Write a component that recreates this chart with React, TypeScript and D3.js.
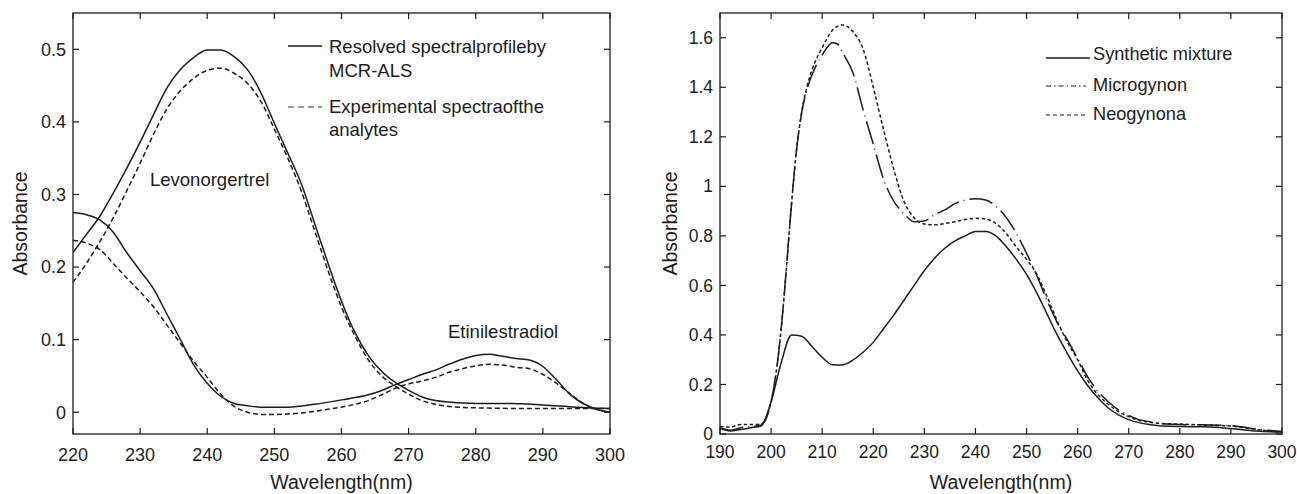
import React from "react";
import * as d3 from "d3";

// ---------- Left panel data (wavelength nm, absorbance) ----------
const levoResolved: [number, number][] = [
  [220, 0.22], [222, 0.245], [224, 0.27], [226, 0.302], [228, 0.336], [230, 0.372], [232, 0.41], [234, 0.447],
  [236, 0.472], [238, 0.489], [240, 0.499], [242, 0.499], [244, 0.49], [246, 0.472], [248, 0.44], [250, 0.398],
  [252, 0.357], [254, 0.315], [256, 0.26], [258, 0.205], [260, 0.153], [262, 0.11], [264, 0.078], [266, 0.056],
  [268, 0.041], [270, 0.03], [272, 0.021], [274, 0.016], [276, 0.014], [280, 0.012], [285, 0.012], [290, 0.01],
  [295, 0.007], [300, 0.005],
];
const levoExperimental: [number, number][] = [
  [220, 0.179], [222, 0.205], [224, 0.235], [226, 0.268], [228, 0.305], [230, 0.343], [232, 0.383], [234, 0.418],
  [236, 0.443], [238, 0.46], [240, 0.471], [242, 0.474], [244, 0.467], [246, 0.453], [248, 0.428], [250, 0.39],
  [252, 0.35], [254, 0.305], [256, 0.25], [258, 0.195], [260, 0.145], [262, 0.105], [264, 0.072], [266, 0.05],
  [268, 0.036], [270, 0.025], [272, 0.016], [274, 0.011], [276, 0.008], [280, 0.006], [290, 0.005], [300, 0.005],
];
const etinResolved: [number, number][] = [
  [220, 0.275], [222, 0.272], [224, 0.265], [226, 0.248], [228, 0.22], [230, 0.195], [232, 0.17], [234, 0.135],
  [236, 0.1], [238, 0.065], [240, 0.04], [242, 0.022], [244, 0.012], [246, 0.009], [248, 0.007], [252, 0.007],
  [256, 0.011], [260, 0.017], [264, 0.024], [266, 0.03], [268, 0.038], [270, 0.045], [272, 0.052], [274, 0.058],
  [276, 0.066], [278, 0.073], [280, 0.078], [282, 0.08], [284, 0.077], [286, 0.074], [288, 0.072], [290, 0.063],
  [292, 0.045], [294, 0.025], [296, 0.012], [298, 0.004], [300, 0.0],
];
const etinExperimental: [number, number][] = [
  [220, 0.237], [222, 0.233], [224, 0.224], [226, 0.205], [228, 0.185], [230, 0.166], [232, 0.145], [234, 0.12],
  [236, 0.095], [238, 0.07], [240, 0.048], [242, 0.025], [244, 0.008], [246, 0.0], [248, -0.003], [250, -0.003],
  [254, -0.001], [258, 0.004], [262, 0.011], [264, 0.016], [266, 0.024], [268, 0.033], [270, 0.039], [272, 0.043],
  [274, 0.048], [276, 0.055], [278, 0.06], [280, 0.064], [282, 0.066], [284, 0.065], [286, 0.062], [288, 0.06],
  [290, 0.052], [292, 0.04], [294, 0.026], [296, 0.012], [298, 0.004], [300, 0.0],
];
const leftXTicks = [220, 230, 240, 250, 260, 270, 280, 290, 300];
const leftYTicks = [0, 0.1, 0.2, 0.3, 0.4, 0.5];

// ---------- Right panel data ----------
const synthetic: [number, number][] = [
  [190, 0.023], [192, 0.012], [194, 0.018], [196, 0.025], [198, 0.032], [200, 0.13], [202, 0.29], [204, 0.4],
  [206, 0.395], [208, 0.353], [210, 0.31], [212, 0.28], [214, 0.279], [216, 0.298], [218, 0.33], [220, 0.37],
  [222, 0.425], [224, 0.48], [226, 0.54], [228, 0.6], [230, 0.66], [232, 0.71], [234, 0.75], [236, 0.78],
  [238, 0.8], [240, 0.818], [242, 0.818], [244, 0.8], [246, 0.757], [248, 0.705], [250, 0.645], [252, 0.57],
  [254, 0.485], [256, 0.4], [258, 0.325], [260, 0.255], [262, 0.195], [264, 0.145], [266, 0.105], [268, 0.077],
  [270, 0.058], [272, 0.046], [274, 0.038], [276, 0.033], [280, 0.03], [285, 0.029], [290, 0.022], [295, 0.012],
  [300, 0.008],
];
const microgynon: [number, number][] = [
  [190, 0.025], [192, 0.015], [194, 0.025], [196, 0.03], [198, 0.035], [200, 0.13], [201, 0.25], [202, 0.43],
  [203, 0.67], [204, 0.93], [205, 1.15], [206, 1.3], [207, 1.39], [208, 1.45], [210, 1.53], [212, 1.58],
  [213, 1.575], [214, 1.54], [216, 1.46], [218, 1.31], [220, 1.17], [222, 1.03], [224, 0.94], [226, 0.89],
  [228, 0.857], [230, 0.86], [232, 0.885], [234, 0.905], [236, 0.93], [238, 0.945], [240, 0.95], [242, 0.945],
  [244, 0.92], [246, 0.875], [248, 0.81], [250, 0.73], [252, 0.64], [254, 0.54], [256, 0.45], [258, 0.38],
  [260, 0.305], [262, 0.23], [264, 0.172], [266, 0.13], [268, 0.097], [270, 0.075], [272, 0.058], [274, 0.05],
  [276, 0.043], [280, 0.038], [285, 0.037], [290, 0.034], [295, 0.02], [300, 0.01],
];
const neogynona: [number, number][] = [
  [190, 0.03], [192, 0.028], [194, 0.038], [196, 0.038], [198, 0.04], [200, 0.13], [201, 0.25], [202, 0.43],
  [203, 0.67], [204, 0.93], [205, 1.15], [206, 1.3], [207, 1.4], [208, 1.47], [210, 1.56], [212, 1.63],
  [214, 1.652], [216, 1.625], [218, 1.555], [220, 1.4], [222, 1.23], [224, 1.07], [226, 0.94], [228, 0.873],
  [230, 0.848], [232, 0.845], [234, 0.85], [236, 0.857], [238, 0.866], [240, 0.871], [242, 0.868], [244, 0.85],
  [246, 0.81], [248, 0.755], [250, 0.705], [252, 0.645], [254, 0.555], [256, 0.457], [258, 0.37], [260, 0.3],
  [262, 0.215], [264, 0.158], [266, 0.12], [268, 0.09], [270, 0.07], [272, 0.055], [274, 0.048], [276, 0.043],
  [280, 0.04], [285, 0.036], [290, 0.032], [295, 0.018], [300, 0.008],
];
const rightXTicks = [190, 200, 210, 220, 230, 240, 250, 260, 270, 280, 290, 300];
const rightYTicks = [0, 0.2, 0.4, 0.6, 0.8, 1, 1.2, 1.4, 1.6];

const FONT = "'Liberation Sans', Arial, Helvetica, sans-serif";
const INK = "#1c1c1c";

type Frame = { x0: number; x1: number; y0: number; y1: number };

function Axes({ x, y, xt, yt, f, fmt, tickFont, xLabelY }: any) {
  const T = 6;
  return (
    <g>
      <rect x={f.x0} y={f.y0} width={f.x1 - f.x0} height={f.y1 - f.y0} fill="none" stroke={INK} strokeWidth={1.3} />
      {xt.map((t: number) => (
        <g key={"x" + t}>
          <line x1={x(t)} x2={x(t)} y1={f.y1} y2={f.y1 - T} stroke={INK} strokeWidth={1.2} />
          <line x1={x(t)} x2={x(t)} y1={f.y0} y2={f.y0 + T} stroke={INK} strokeWidth={1.2} />
          <text x={x(t)} y={xLabelY} textAnchor="middle" fontSize={tickFont} fontFamily={FONT} fill={INK}>{t}</text>
        </g>
      ))}
      {yt.map((t: number) => (
        <g key={"y" + t}>
          <line x1={f.x0} x2={f.x0 + T} y1={y(t)} y2={y(t)} stroke={INK} strokeWidth={1.2} />
          <line x1={f.x1} x2={f.x1 - T} y1={y(t)} y2={y(t)} stroke={INK} strokeWidth={1.2} />
          <text x={f.x0 - 7} y={y(t)} dy="0.35em" textAnchor="end" fontSize={tickFont} fontFamily={FONT} fill={INK}>{fmt(t)}</text>
        </g>
      ))}
    </g>
  );
}

export default function App() {
  // Left panel
  const L: Frame = { x0: 73, x1: 610, y0: 13, y1: 434 };
  const xL = d3.scaleLinear().domain([220, 300]).range([L.x0, L.x1]);
  const yL = d3.scaleLinear().domain([-0.03, 0.55]).range([L.y1, L.y0]);
  const lineL = d3.line<[number, number]>().x((d) => xL(d[0])).y((d) => yL(d[1])).curve(d3.curveMonotoneX);

  // Right panel
  const R: Frame = { x0: 720, x1: 1282, y0: 13, y1: 434 };
  const xR = d3.scaleLinear().domain([190, 300]).range([R.x0, R.x1]);
  const yR = d3.scaleLinear().domain([0, 1.7]).range([R.y1, R.y0]);
  const lineR = d3.line<[number, number]>().x((d) => xR(d[0])).y((d) => yR(d[1])).curve(d3.curveMonotoneX);

  const fmtL = (t: number) => (t === 0 ? "0" : d3.format(".1f")(t));
  const fmtR = (t: number) => (t === 0 ? "0" : t === 1 ? "1" : d3.format(".1f")(t));

  return (
    <svg width={1297} height={494} style={{ position: "absolute", left: 0, top: 0, background: "#fff" }}>
      <rect width={1297} height={494} fill="#fff" />
      <defs>
        <clipPath id="clipL"><rect x={L.x0} y={L.y0} width={L.x1 - L.x0} height={L.y1 - L.y0} /></clipPath>
        <clipPath id="clipR"><rect x={R.x0} y={R.y0} width={R.x1 - R.x0} height={R.y1 - R.y0} /></clipPath>
      </defs>
      {/* ---------- Left panel ---------- */}
      <g clipPath="url(#clipL)">
        <path d={lineL(levoResolved) || ""} fill="none" stroke={INK} strokeWidth={1.5} />
        <path d={lineL(etinResolved) || ""} fill="none" stroke={INK} strokeWidth={1.5} />
        <path d={lineL(levoExperimental) || ""} fill="none" stroke={INK} strokeWidth={1.5} strokeDasharray="5,3" />
        <path d={lineL(etinExperimental) || ""} fill="none" stroke={INK} strokeWidth={1.5} strokeDasharray="5,3" />
      </g>
      <Axes x={xL} y={yL} xt={leftXTicks} yt={leftYTicks} f={L} fmt={fmtL} tickFont={18} xLabelY={461} />
      <text x={150} y={186} fontSize={18.5} fontFamily={FONT} fill={INK}>Levonorgertrel</text>
      <text x={448} y={338} fontSize={18.5} fontFamily={FONT} fill={INK}>Etinilestradiol</text>
      <line x1={288} x2={322} y1={46} y2={46} stroke={INK} strokeWidth={1.3} />
      <text x={329} y={53} fontSize={18.5} fontFamily={FONT} fill={INK}>Resolved spectralprofileby</text>
      <text x={329} y={77} fontSize={18.5} fontFamily={FONT} fill={INK}>MCR-ALS</text>
      <line x1={288} x2={322} y1={107} y2={107} stroke="#777" strokeWidth={1.3} strokeDasharray="6,4" />
      <text x={329} y={113} fontSize={18.5} fontFamily={FONT} fill={INK}>Experimental spectraofthe</text>
      <text x={329} y={136} fontSize={18.5} fontFamily={FONT} fill={INK}>analytes</text>
      <text x={(L.x0 + L.x1) / 2} y={489} textAnchor="middle" fontSize={19.5} fontFamily={FONT} fill={INK}>Wavelength(nm)</text>
      <text transform={`translate(27,${(L.y0 + L.y1) / 2}) rotate(-90)`} textAnchor="middle" fontSize={19.5} fontFamily={FONT} fill={INK}>Absorbance</text>

      {/* ---------- Right panel ---------- */}
      <g clipPath="url(#clipR)">
        <path d={lineR(synthetic) || ""} fill="none" stroke={INK} strokeWidth={1.5} />
        <path d={lineR(microgynon) || ""} fill="none" stroke={INK} strokeWidth={1.5} strokeDasharray="24,5,1,5" />
        <path d={lineR(neogynona) || ""} fill="none" stroke={INK} strokeWidth={1.5} strokeDasharray="3.5,2.5" />
      </g>
      <Axes x={xR} y={yR} xt={rightXTicks} yt={rightYTicks} f={R} fmt={fmtR} tickFont={17.5} xLabelY={458} />
      <line x1={1046} x2={1090} y1={58} y2={58} stroke={INK} strokeWidth={1.3} />
      <text x={1093} y={60} fontSize={18.2} fontFamily={FONT} fill={INK}>Synthetic mixture</text>
      <line x1={1046} x2={1086} y1={86} y2={86} stroke={INK} strokeWidth={1.2} strokeDasharray="5,3,1.5,3" />
      <text x={1093} y={91} fontSize={18.2} fontFamily={FONT} fill={INK}>Microgynon</text>
      <line x1={1046} x2={1086} y1={115} y2={115} stroke={INK} strokeWidth={1.2} strokeDasharray="4,3" />
      <text x={1093} y={120} fontSize={18.2} fontFamily={FONT} fill={INK}>Neogynona</text>
      <text x={(R.x0 + R.x1) / 2} y={489} textAnchor="middle" fontSize={19.5} fontFamily={FONT} fill={INK}>Wavelength(nm)</text>
      <text transform={`translate(677,${(R.y0 + R.y1) / 2}) rotate(-90)`} textAnchor="middle" fontSize={19.5} fontFamily={FONT} fill={INK}>Absorbance</text>
    </svg>
  );
}
